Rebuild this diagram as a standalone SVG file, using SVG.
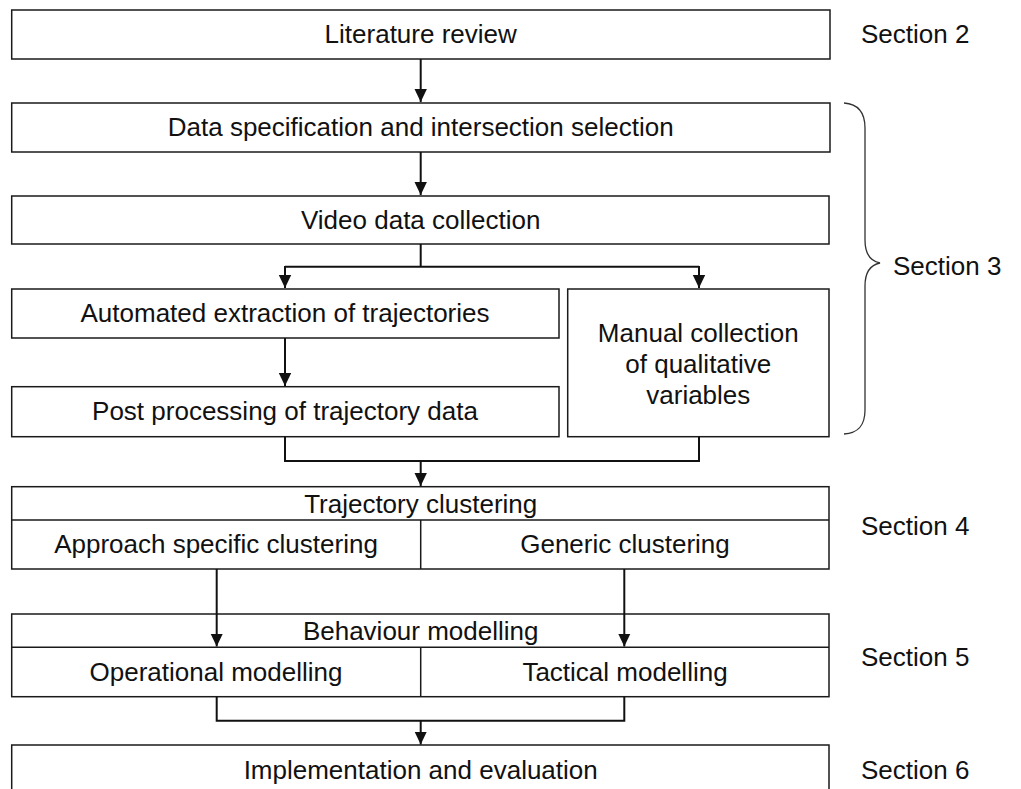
<svg xmlns="http://www.w3.org/2000/svg" width="1021" height="789" viewBox="0 0 1021 789">
  <style>
    .box { fill: #fff; stroke: #1a1a1a; stroke-width: 1.5; }
    .div { fill: none; stroke: #1a1a1a; stroke-width: 1.5; }
    .lbl { font-family: "Liberation Sans", Arial, Helvetica, sans-serif; font-size: 26px; fill: #111; text-anchor: middle; }
    .sec { font-family: "Liberation Sans", Arial, Helvetica, sans-serif; font-size: 26px; fill: #111; }
    .wire { fill: none; stroke: #111; stroke-width: 2; }
    .brace { fill: none; stroke: #333; stroke-width: 1.3; }
  </style>
  <defs>
    <marker id="arrow" markerUnits="userSpaceOnUse" markerWidth="14" markerHeight="14" viewBox="0 0 14 14" refX="13" refY="7" orient="auto">
      <path d="M0,0.8 L13,7 L0,13.2 Z" fill="#111"/>
    </marker>
  </defs>
  <rect width="1021" height="789" fill="#fff"/>

  <!-- nodes -->
  <g id="literature-review">
    <rect class="box" x="11.7" y="10" width="818.3" height="49"/>
    <text class="lbl" x="420.7" y="43">Literature review</text>
  </g>
  <g id="data-specification">
    <rect class="box" x="11.7" y="103" width="818.3" height="49"/>
    <text class="lbl" x="420.7" y="136">Data specification and intersection selection</text>
  </g>
  <g id="video-data-collection">
    <rect class="box" x="11.7" y="196" width="817.3" height="48"/>
    <text class="lbl" x="420.7" y="228.5">Video data collection</text>
  </g>
  <g id="automated-extraction">
    <rect class="box" x="11.7" y="289" width="547.3" height="49"/>
    <text class="lbl" x="285" y="322">Automated extraction of trajectories</text>
  </g>
  <g id="post-processing">
    <rect class="box" x="11.7" y="386.7" width="547.3" height="50"/>
    <text class="lbl" x="285" y="420">Post processing of trajectory data</text>
  </g>
  <g id="manual-collection">
    <rect class="box" x="567.7" y="289" width="261.3" height="147.7"/>
    <text class="lbl" x="698.3" y="342">Manual collection</text>
    <text class="lbl" x="698.3" y="373">of qualitative</text>
    <text class="lbl" x="698.3" y="404">variables</text>
  </g>
  <g id="trajectory-clustering">
    <rect class="box" x="11.7" y="486.7" width="817.3" height="82.3"/>
    <path class="div" d="M11.7,520 H829 M420.7,520 V569"/>
    <text class="lbl" x="420.7" y="513.3">Trajectory clustering</text>
    <text class="lbl" x="216" y="553.3">Approach specific clustering</text>
    <text class="lbl" x="625" y="553.3">Generic clustering</text>
  </g>
  <g id="behaviour-modelling">
    <rect class="box" x="11.7" y="614" width="817.3" height="82.7"/>
    <path class="div" d="M11.7,647.3 H829 M420.7,647.3 V696.7"/>
    <text class="lbl" x="420.7" y="640">Behaviour modelling</text>
    <text class="lbl" x="216" y="680.7">Operational modelling</text>
    <text class="lbl" x="625" y="680.7">Tactical modelling</text>
  </g>
  <g id="implementation">
    <rect class="box" x="11.7" y="745" width="817.3" height="49"/>
    <text class="lbl" x="420.7" y="779">Implementation and evaluation</text>
  </g>

  <!-- connectors, drawn over the boxes -->
  <g id="connectors">
    <path class="wire" d="M420.7,59 V102" marker-end="url(#arrow)"/>
    <path class="wire" d="M420.7,152 V195" marker-end="url(#arrow)"/>
    <path class="wire" d="M420.7,244 V266.7"/>
    <path class="wire" d="M285,266.7 H699"/>
    <path class="wire" d="M285,266 V288" marker-end="url(#arrow)"/>
    <path class="wire" d="M699,266 V288" marker-end="url(#arrow)"/>
    <path class="wire" d="M285,338 V386" marker-end="url(#arrow)"/>
    <path class="wire" d="M285,436.7 V461 H699 V436.7"/>
    <path class="wire" d="M420.7,461 V486" marker-end="url(#arrow)"/>
    <path class="wire" d="M216.7,569 V646.5" marker-end="url(#arrow)"/>
    <path class="wire" d="M624.3,569 V646.5" marker-end="url(#arrow)"/>
    <path class="wire" d="M216.7,696.7 V720.7 H624.3 V696.7"/>
    <path class="wire" d="M420.7,720.7 V744.5" marker-end="url(#arrow)"/>
  </g>

  <!-- section annotations -->
  <g id="section-labels">
    <text class="sec" x="861" y="43.3">Section 2</text>
    <path class="brace" d="M844,103 C858,104 865,112 865,128 V240 C865,254 870,261 880,263 C870,265 865,272 865,286 V410 C865,426 858,433 844,434"/>
    <text class="sec" x="893" y="275">Section 3</text>
    <text class="sec" x="861" y="535">Section 4</text>
    <text class="sec" x="861" y="665.7">Section 5</text>
    <text class="sec" x="861" y="779">Section 6</text>
  </g>
</svg>
